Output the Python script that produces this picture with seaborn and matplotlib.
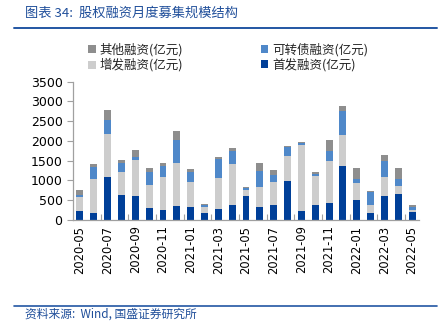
import numpy as np
import pandas as pd
import matplotlib
matplotlib.use("Agg")
import matplotlib.pyplot as plt
from matplotlib.patches import Patch
from matplotlib.lines import Line2D
from matplotlib.ticker import FixedLocator
import seaborn as sns

# Monthly equity financing (亿元), 2020-05 .. 2022-05
months = ["2020-05", "2020-06", "2020-07", "2020-08", "2020-09", "2020-10",
          "2020-11", "2020-12", "2021-01", "2021-02", "2021-03", "2021-04",
          "2021-05", "2021-06", "2021-07", "2021-08", "2021-09", "2021-10",
          "2021-11", "2021-12", "2022-01", "2022-02", "2022-03", "2022-04",
          "2022-05"]
ipo = [240, 185, 1085, 635, 595, 315, 245, 355, 330, 170, 290, 390, 620,
       330, 375, 975, 240, 390, 440, 1365, 510, 185, 600, 660, 200]
placement = [330, 855, 1090, 575, 920, 565, 855, 1085, 635, 160, 780, 1025, 145,
             515, 585, 645, 1660, 735, 1065, 780, 415, 195, 500, 210, 50]
convertible = [70, 290, 365, 230, 75, 340, 270, 595, 255, 45, 485, 340, 35,
               400, 185, 220, 50, 50, 245, 610, 100, 320, 405, 155, 85]
other = [125, 75, 245, 70, 180, 95, 75, 210, 60, 35, 50, 75, 40,
         205, 110, 35, 35, 45, 265, 135, 280, 25, 145, 280, 35]

names = ["首发融资(亿元)", "增发融资(亿元)", "可转债融资(亿元)", "其他融资(亿元)"]
colors = ["#003F98", "#CDCDCD", "#4F88C9", "#8E8E8E"]

sns.set_theme(style="white")
plt.rcParams["font.family"] = ["DejaVu Sans", "Noto Sans CJK SC"]
cjk = ["Noto Sans CJK SC", "DejaVu Sans"]

df = pd.DataFrame({"month": months, names[0]: ipo, names[1]: placement,
                   names[2]: convertible, names[3]: other})
layers = df[names].cumsum(axis=1)

fig = plt.figure(figsize=(4.46, 3.30), dpi=100)
ax = fig.add_axes([73 / 446, 1 - 220 / 330, 346 / 446, 138.3 / 330])

# stacked bars: draw cumulative totals from the top layer downwards
for name, color in reversed(list(zip(names, colors))):
    sns.barplot(x=df["month"], y=layers[name], color=color, width=0.5,
                saturation=1, ax=ax, edgecolor="none", linewidth=0)

ax.set_xlim(-0.5, len(months) - 0.5)
ax.set_ylim(0, 3500)
ax.set_yticks(np.arange(0, 3501, 500))
ax.set_xlabel("")
ax.set_ylabel("")

ax.set_xticks(range(0, len(months), 2))
ax.set_xticklabels(months[::2], rotation=90, fontsize=8.3, color="#000000")
ax.tick_params(axis="x", length=0, pad=4)
ax.xaxis.set_minor_locator(FixedLocator(np.arange(1.5, len(months) - 1, 2)))
ax.tick_params(axis="x", which="minor", direction="in", length=4,
               width=0.8, color="#A0A0A0", bottom=True)
ax.tick_params(axis="y", labelsize=9, colors="#000000", length=4,
               width=0.8, direction="out", left=True)
for t in ax.get_yticklabels():
    t.set_color("#000000")
ax.tick_params(axis="y", color="#A0A0A0")

for s in ["top", "right"]:
    ax.spines[s].set_visible(False)
for s in ["left", "bottom"]:
    ax.spines[s].set_color("#A0A0A0")
    ax.spines[s].set_linewidth(0.9)

# legend: two rows, two columns
order = [3, 1, 2, 0]
handles = [Patch(facecolor=colors[i], edgecolor="none") for i in order]
labels = [names[i] for i in order]
fig.legend(handles, labels, loc="upper left", bbox_to_anchor=(88 / 446, 1 - 43 / 330),
           ncol=2, frameon=False, prop={"family": cjk, "size": 9},
           handlelength=0.6, handleheight=0.6, handletextpad=0.35,
           columnspacing=6.2, labelspacing=0.15, borderpad=0, borderaxespad=0)

# header and footer
blue = "#1F4E9A"
fig.text(25 / 446, 1 - 13 / 330, "图表 34:  股权融资月度募集规模结构", fontsize=9.5,
         color=blue, family=cjk, va="center", ha="left")
fig.add_artist(Line2D([14 / 446, 437 / 446], [1 - 27.5 / 330] * 2,
                      color="#2356A3", linewidth=1.4))
fig.add_artist(Line2D([14 / 446, 437 / 446], [1 - 305.5 / 330] * 2,
                      color="#2356A3", linewidth=1.2))
fig.text(25 / 446, 1 - 314 / 330, "资料来源:  Wind, 国盛证券研究所", fontsize=8.5,
         color=blue, family=cjk, va="center", ha="left")

fig.savefig("out.png", dpi=100)
